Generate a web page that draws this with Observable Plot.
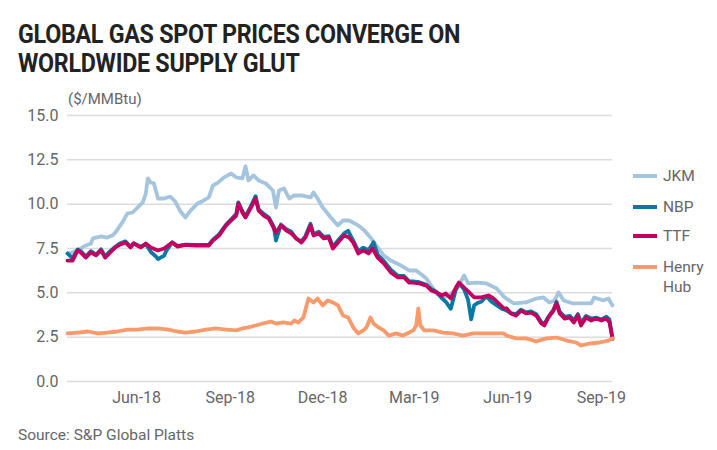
<!DOCTYPE html>
<html>
<head>
<meta charset="utf-8">
<script src="https://cdn.jsdelivr.net/npm/d3@7"></script>
<script src="https://cdn.jsdelivr.net/npm/@observablehq/plot@0.6"></script>
<style>
  html, body { margin: 0; padding: 0; background: #fff; }
  #wrap { position: relative; width: 717px; height: 450px; overflow: hidden; font-family: Roboto, "DejaVu Sans", sans-serif; }
  .tl { position: absolute; left: 18px; font-family: Roboto, sans-serif; font-weight: 700; font-size: 25.5px; line-height: 29px; height: 29px; color: #222; letter-spacing: -0.3px; transform-origin: 0 0; white-space: nowrap; }
  #t1 { top: 20px; }
  #t2 { top: 49px; }
  #unit { position: absolute; left: 68px; top: 90px; font-size: 15px; color: #666; }
  #source { position: absolute; left: 18px; top: 426px; font-size: 15.5px; color: #666; }
  #chart { position: absolute; left: 0; top: 85px; }
  .leg { position: absolute; left: 633px; font-size: 15.5px; color: #666; line-height: 20px; }
  .leg .sw { position: absolute; left: 0; top: 8px; width: 24px; height: 4px; }
  .leg .tx { position: absolute; left: 30px; top: 0; white-space: nowrap; }
</style>
</head>
<body>
<div id="wrap">
  <div class="tl" id="t1">GLOBAL GAS SPOT PRICES CONVERGE ON</div>
  <div class="tl" id="t2">WORLDWIDE SUPPLY GLUT</div>
  <div id="unit">($/MMBtu)</div>
  <div id="chart"></div>
  <div id="legend"></div>
  <div id="source">Source: S&amp;P Global Platts</div>
</div>
<script>
const seriesNames = ["JKM", "NBP", "TTF", "Henry Hub"];
const seriesColors = ["#a4c5dd", "#0a78a2", "#c1005f", "#f89a6c"];
const yTicks = [0, 2.5, 5, 7.5, 10, 12.5, 15];
const xTickDates = ["2018-06-01", "2018-09-01", "2018-12-01", "2019-03-01", "2019-06-01", "2019-09-01"];
const xTickLabels = ["Jun-18", "Sep-18", "Dec-18", "Mar-19", "Jun-19", "Sep-19"];

const jkm = [
["2018-03-25",7.22],["2018-03-30",7.28],["2018-04-07",7.5],["2018-04-10",7.61],["2018-04-17",7.78],["2018-04-19",8.07],
["2018-04-27",8.18],["2018-05-03",8.12],["2018-05-08",8.23],["2018-05-11",8.40],["2018-05-18",8.97],["2018-05-23",9.48],
["2018-05-28",9.53],["2018-06-07",10.10],["2018-06-10",10.60],["2018-06-12",11.45],["2018-06-15",11.22],["2018-06-18",11.17],
["2018-06-22",10.32],["2018-06-28",10.32],["2018-07-04",10.43],["2018-07-09",10.15],["2018-07-14",9.6],["2018-07-19",9.25],
["2018-07-24",9.64],["2018-07-31",10.04],["2018-08-06",10.21],["2018-08-11",10.38],["2018-08-15",11.05],["2018-08-20",11.22],
["2018-08-26",11.51],["2018-09-02",11.73],["2018-09-07",11.51],["2018-09-13",11.45],["2018-09-16",12.13],["2018-09-19",11.34],
["2018-09-24",11.62],["2018-09-29",11.34],["2018-10-06",11.17],["2018-10-13",10.77],["2018-10-16",9.81],["2018-10-19",10.77],
["2018-10-24",10.89],["2018-10-29",10.32],["2018-11-03",10.49],["2018-11-10",10.49],["2018-11-19",10.38],["2018-11-22",10.66],
["2018-11-26",10.32],["2018-12-01",9.81],["2018-12-09",9.25],["2018-12-16",8.80],["2018-12-21",9.08],["2018-12-27",9.08],
["2019-01-05",8.80],["2019-01-11",8.52],["2019-01-17",8.12],["2019-01-24",7.56],["2019-01-30",7.11],["2019-02-06",6.82],
["2019-02-16",6.54],["2019-02-24",6.26],["2019-03-03",6.26],["2019-03-13",5.81],["2019-03-23",4.96],["2019-03-29",4.74],
["2019-04-04",4.85],["2019-04-13",5.30],["2019-04-19",5.98],["2019-04-23",5.53],["2019-05-01",5.58],["2019-05-11",5.53],
["2019-05-21",5.25],["2019-05-29",4.74],["2019-06-07",4.40],["2019-06-19",4.46],["2019-06-29",4.68],["2019-07-06",4.74],
["2019-07-12",4.46],["2019-07-17",4.57],["2019-07-21",5.02],["2019-07-26",4.57],["2019-08-04",4.40],["2019-08-14",4.40],
["2019-08-22",4.40],["2019-08-25",4.74],["2019-09-03",4.57],["2019-09-08",4.68],["2019-09-12",4.29]
];

const nbp = [
["2018-03-25",7.22],["2018-03-30",6.95],["2018-04-04",7.45],["2018-04-07",7.35],["2018-04-12",7.05],["2018-04-17",7.35],
["2018-04-22",7.15],["2018-04-27",7.45],["2018-05-01",7.05],["2018-05-06",7.35],["2018-05-11",7.6],["2018-05-16",7.8],
["2018-05-21",7.9],["2018-05-26",7.6],["2018-05-29",7.8],["2018-06-05",7.6],["2018-06-10",7.75],["2018-06-15",7.3],
["2018-06-20",7.05],["2018-06-22",6.9],["2018-06-25",7.0],["2018-06-28",7.1],["2018-06-30",7.35],["2018-07-06",7.85],
["2018-07-11",7.65],["2018-07-19",7.72],["2018-07-29",7.7],["2018-08-11",7.72],["2018-08-15",8.0],["2018-08-21",8.3],
["2018-08-28",8.85],["2018-09-02",9.15],["2018-09-07",9.45],["2018-09-09",10.1],["2018-09-13",9.6],["2018-09-16",9.3],
["2018-09-21",9.85],["2018-09-26",10.45],["2018-09-29",9.7],["2018-10-04",9.45],["2018-10-09",9.25],["2018-10-14",8.7],
["2018-10-16",7.95],["2018-10-21",8.85],["2018-10-26",8.6],["2018-10-31",8.45],["2018-11-05",8.05],["2018-11-10",7.9],
["2018-11-14",8.2],["2018-11-19",8.9],["2018-11-22",8.3],["2018-11-27",8.45],["2018-12-02",8.15],["2018-12-07",8.2],
["2018-12-11",7.6],["2018-12-16",7.95],["2018-12-22",8.35],["2018-12-26",8.5],["2018-12-31",7.95],["2019-01-05",7.35],
["2019-01-10",7.55],["2019-01-15",7.4],["2019-01-20",7.85],["2019-01-24",7.15],["2019-01-30",6.8],["2019-02-06",6.3],
["2019-02-13",5.95],["2019-02-19",5.95],["2019-02-24",5.65],["2019-02-28",5.65],["2019-03-06",5.6],["2019-03-13",5.45],
["2019-03-18",5.2],["2019-03-23",5.05],["2019-03-28",4.7],["2019-04-01",4.5],["2019-04-06",4.1],["2019-04-11",5.2],
["2019-04-14",5.55],["2019-04-19",5.2],["2019-04-23",4.6],["2019-04-26",3.5],["2019-04-29",4.3],["2019-05-03",4.45],
["2019-05-06",4.5],["2019-05-11",4.8],["2019-05-16",4.5],["2019-05-21",4.3],["2019-05-26",4.1],["2019-05-31",4.0],
["2019-06-04",3.85],["2019-06-09",3.8],["2019-06-14",4.05],["2019-06-19",3.9],["2019-06-24",3.95],["2019-06-29",3.8],
["2019-07-04",3.35],["2019-07-07",3.25],["2019-07-11",3.65],["2019-07-16",4.05],["2019-07-19",4.5],["2019-07-22",3.95],
["2019-07-27",3.65],["2019-08-01",3.7],["2019-08-05",3.45],["2019-08-09",3.8],["2019-08-12",3.3],["2019-08-17",3.7],
["2019-08-22",3.55],["2019-08-27",3.6],["2019-09-01",3.5],["2019-09-06",3.65],["2019-09-09",3.5],["2019-09-12",2.4]
];

const ttf = [
["2018-03-25",6.82],["2018-03-30",6.82],["2018-04-04",7.39],["2018-04-07",7.28],["2018-04-12",6.99],["2018-04-17",7.28],
["2018-04-22",7.11],["2018-04-27",7.39],["2018-05-01",6.99],["2018-05-06",7.28],["2018-05-11",7.56],["2018-05-16",7.73],
["2018-05-21",7.84],["2018-05-26",7.56],["2018-05-29",7.78],["2018-06-05",7.56],["2018-06-10",7.78],["2018-06-15",7.56],
["2018-06-22",7.39],["2018-06-28",7.50],["2018-07-06",7.84],["2018-07-11",7.61],["2018-07-19",7.7],["2018-07-29",7.67],
["2018-08-11",7.67],["2018-08-15",7.95],["2018-08-21",8.23],["2018-08-28",8.8],["2018-09-02",9.08],["2018-09-07",9.36],
["2018-09-09",10.04],["2018-09-13",9.53],["2018-09-16",9.25],["2018-09-21",9.76],["2018-09-26",10.32],["2018-09-29",9.64],
["2018-10-04",9.36],["2018-10-09",9.19],["2018-10-14",8.63],["2018-10-16",8.40],["2018-10-21",8.80],["2018-10-26",8.52],
["2018-10-31",8.35],["2018-11-05",8.07],["2018-11-10",7.84],["2018-11-14",8.12],["2018-11-19",8.80],["2018-11-22",8.23],
["2018-11-27",8.35],["2018-12-02",8.07],["2018-12-07",8.12],["2018-12-11",7.50],["2018-12-16",7.84],["2018-12-22",8.23],
["2018-12-27",8.12],["2018-12-31",7.84],["2019-01-05",7.22],["2019-01-10",7.39],["2019-01-15",7.22],["2019-01-19",7.50],
["2019-01-24",6.99],["2019-01-30",6.66],["2019-02-06",6.15],["2019-02-13",5.87],["2019-02-19",5.87],["2019-02-24",5.58],
["2019-02-28",5.58],["2019-03-06",5.53],["2019-03-13",5.41],["2019-03-18",5.13],["2019-03-23",5.02],["2019-03-28",4.85],
["2019-04-01",4.96],["2019-04-06",4.68],["2019-04-11",5.30],["2019-04-14",5.58],["2019-04-19",5.30],["2019-04-24",5.02],
["2019-04-29",4.74],["2019-05-06",4.74],["2019-05-13",4.85],["2019-05-18",4.68],["2019-05-23",4.40],["2019-05-28",4.12],
["2019-05-31",4.12],["2019-06-04",3.84],["2019-06-09",3.72],["2019-06-14",4.00],["2019-06-19",3.84],["2019-06-24",3.89],
["2019-06-29",3.72],["2019-07-04",3.27],["2019-07-07",3.16],["2019-07-11",3.61],["2019-07-16",4.00],["2019-07-19",4.40],
["2019-07-22",3.84],["2019-07-27",3.55],["2019-08-01",3.61],["2019-08-05",3.33],["2019-08-09",3.72],["2019-08-12",3.16],
["2019-08-17",3.61],["2019-08-22",3.44],["2019-08-27",3.55],["2019-09-01",3.44],["2019-09-06",3.55],["2019-09-09",3.33],
["2019-09-12",2.43]
];

const henryHub = [
["2018-03-25",2.71],["2018-04-04",2.76],["2018-04-14",2.82],["2018-04-24",2.71],["2018-05-03",2.76],["2018-05-13",2.82],
["2018-05-23",2.93],["2018-06-02",2.93],["2018-06-12",2.99],["2018-06-22",2.99],["2018-07-02",2.93],["2018-07-11",2.82],
["2018-07-19",2.76],["2018-07-29",2.82],["2018-08-08",2.93],["2018-08-18",2.99],["2018-08-28",2.93],["2018-09-07",2.88],
["2018-09-13",2.99],["2018-09-19",3.05],["2018-09-26",3.16],["2018-10-03",3.27],["2018-10-11",3.38],["2018-10-16",3.27],
["2018-10-23",3.33],["2018-10-31",3.27],["2018-11-03",3.44],["2018-11-07",3.33],["2018-11-12",3.61],["2018-11-17",4.68],
["2018-11-22",4.46],["2018-11-26",4.68],["2018-12-01",4.29],["2018-12-06",4.57],["2018-12-11",4.46],["2018-12-16",4.29],
["2018-12-21",3.72],["2018-12-26",3.61],["2018-12-31",3.05],["2019-01-05",2.71],["2019-01-10",2.88],["2019-01-13",3.05],
["2019-01-17",3.61],["2019-01-20",3.27],["2019-01-25",3.05],["2019-01-30",2.88],["2019-02-04",2.59],["2019-02-11",2.71],
["2019-02-18",2.59],["2019-02-24",2.76],["2019-02-28",2.88],["2019-03-03",3.16],["2019-03-05",4.12],["2019-03-07",3.16],
["2019-03-11",2.88],["2019-03-20",2.88],["2019-03-29",2.76],["2019-04-08",2.71],["2019-04-18",2.59],["2019-04-28",2.71],
["2019-05-08",2.71],["2019-05-18",2.71],["2019-05-28",2.71],["2019-05-31",2.59],["2019-06-09",2.43],["2019-06-19",2.43],
["2019-06-29",2.26],["2019-07-09",2.43],["2019-07-19",2.48],["2019-07-29",2.31],["2019-08-07",2.20],["2019-08-12",2.03],
["2019-08-20",2.14],["2019-08-30",2.20],["2019-09-08",2.31],["2019-09-12",2.43]
];

const parse = d3.utcParse("%Y-%m-%d");
const seriesData = [jkm, nbp, ttf, henryHub];
const rows = [];
seriesData.forEach((arr, i) => arr.forEach(([d, v]) => rows.push({series: seriesNames[i], date: parse(d), value: v})));

const chart = Plot.plot({
  width: 717,
  height: 330,
  marginLeft: 67,
  marginRight: 105,
  marginTop: 30,
  marginBottom: 34,
  style: {fontFamily: "Roboto, sans-serif", fontSize: "16px", color: "#666", background: "transparent"},
  x: {type: "utc", domain: [parse("2018-03-25"), parse("2019-09-12")], ticks: xTickDates.map(parse),
      tickFormat: d => xTickLabels[xTickDates.indexOf(d3.utcFormat("%Y-%m-%d")(d))], tickSize: 0, tickPadding: 10, label: null},
  y: {domain: [0, 15], ticks: yTicks, tickFormat: d3.format(".1f"), tickSize: 0, tickPadding: 9, label: null},
  color: {domain: seriesNames, range: seriesColors},
  marks: [
    Plot.ruleY(yTicks, {stroke: "#dcdcdc", strokeWidth: 1.5}),
    Plot.lineY(rows, {x: "date", y: "value", z: "series", stroke: "series", strokeWidth: 3.8, strokeLinejoin: "round", strokeLinecap: "round"})
  ]
});
document.getElementById("chart").appendChild(chart);

// fit the title's first line to the reference width (condensed look)
const t1 = document.getElementById("t1"), t2 = document.getElementById("t2");
const sx = (442 / t1.getBoundingClientRect().width).toFixed(3);
t1.style.transform = `scaleX(${sx})`;
t2.style.transform = `scaleX(${sx})`;

// legend
const legendTops = [166, 197, 226, 257];
const leg = document.getElementById("legend");
seriesNames.forEach((name, i) => {
  const el = document.createElement("div");
  el.className = "leg";
  el.style.top = legendTops[i] + "px";
  const sw = document.createElement("div");
  sw.className = "sw";
  sw.style.background = seriesColors[i];
  const tx = document.createElement("div");
  tx.className = "tx";
  tx.innerHTML = name === "Henry Hub" ? "Henry<br>Hub" : name;
  el.appendChild(sw); el.appendChild(tx);
  leg.appendChild(el);
});
</script>
</body>
</html>
